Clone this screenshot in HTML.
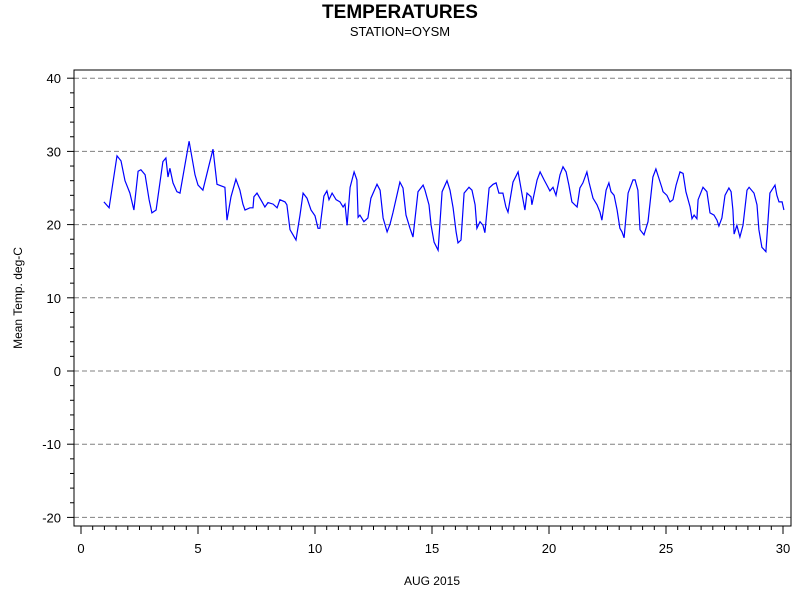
<!DOCTYPE html>
<html><head><meta charset="utf-8"><style>
body{margin:0;background:#fff;}
svg{display:block;font-family:"Liberation Sans",Arial,sans-serif;}
</style></head><body>
<svg id="chart" width="800" height="600">
<text x="400" y="18" text-anchor="middle" font-size="19" font-weight="bold">TEMPERATURES</text>
<text x="400" y="36" text-anchor="middle" font-size="13">STATION=OYSM</text>
<text transform="translate(22,298) rotate(-90)" text-anchor="middle" font-size="12">Mean Temp. deg-C</text>
<text x="432" y="585" text-anchor="middle" font-size="12">AUG 2015</text>
<g id="grid"></g><g id="axes"></g><g id="series"></g>
<rect x="74" y="70" width="717" height="456" fill="none" stroke="#000" stroke-width="1"/>
</svg>
<script>
const days=[0.98,1.20,1.54,1.71,1.88,2.09,2.26,2.44,2.56,2.74,2.91,3.03,3.21,3.50,3.63,3.72,3.80,3.93,4.10,4.23,4.62,4.87,5.00,5.21,5.47,5.64,5.81,6.15,6.24,6.41,6.62,6.79,6.92,7.01,7.22,7.35,7.39,7.52,7.74,7.86,7.99,8.21,8.38,8.50,8.72,8.80,8.93,9.06,9.19,9.36,9.49,9.66,9.83,10.0,10.13,10.21,10.38,10.51,10.60,10.73,10.90,11.07,11.20,11.28,11.37,11.50,11.67,11.79,11.84,11.92,12.09,12.26,12.39,12.65,12.78,12.91,13.08,13.21,13.33,13.63,13.76,13.89,14.06,14.19,14.40,14.62,14.70,14.87,14.96,15.09,15.26,15.43,15.64,15.77,15.90,16.03,16.11,16.24,16.37,16.58,16.71,16.84,16.92,17.05,17.18,17.26,17.44,17.61,17.74,17.86,18.03,18.16,18.25,18.46,18.68,18.89,18.97,19.06,19.23,19.27,19.49,19.62,19.79,19.91,20.04,20.17,20.30,20.47,20.60,20.73,20.85,20.98,21.20,21.32,21.45,21.62,21.71,21.88,22.05,22.18,22.26,22.44,22.56,22.65,22.78,22.91,23.03,23.12,23.21,23.38,23.59,23.68,23.80,23.89,24.06,24.23,24.44,24.57,24.83,24.87,25.04,25.17,25.30,25.43,25.60,25.73,25.85,26.03,26.11,26.20,26.32,26.37,26.58,26.75,26.88,27.05,27.18,27.26,27.39,27.52,27.69,27.78,27.86,27.91,28.03,28.16,28.29,28.46,28.55,28.76,28.89,28.97,29.10,29.27,29.44,29.66,29.74,29.83,29.96,30.04];
const temps=[23.1,22.3,29.4,28.7,26.0,24.3,22.0,27.3,27.5,26.8,23.4,21.6,22.0,28.6,29.1,26.5,27.7,25.7,24.5,24.3,31.4,26.8,25.4,24.7,28.1,30.3,25.5,25.1,20.6,23.8,26.2,24.7,22.8,22.0,22.3,22.3,23.8,24.3,23.1,22.4,23.0,22.8,22.3,23.4,23.1,22.7,19.3,18.6,17.9,21.3,24.3,23.6,22.0,21.2,19.5,19.5,23.9,24.6,23.4,24.3,23.4,23.1,22.4,22.8,19.9,25.1,27.2,26.1,21.0,21.3,20.4,20.9,23.6,25.5,24.7,20.9,19.0,20.1,21.6,25.8,25.0,21.3,19.5,18.3,24.5,25.4,24.7,22.7,19.9,17.6,16.5,24.5,26.0,24.7,22.3,19.0,17.5,17.9,24.3,25.1,24.7,22.7,19.5,20.4,19.9,18.9,25.0,25.5,25.7,24.3,24.3,22.4,21.7,25.8,27.2,23.4,22.0,24.3,23.8,22.7,26.1,27.2,26.1,25.4,24.6,25.1,24.0,26.8,27.9,27.2,25.4,23.1,22.4,25.0,25.7,27.2,25.8,23.6,22.7,21.7,20.6,24.7,25.7,24.5,24.0,22.0,19.5,19.0,18.2,24.3,26.1,26.1,24.7,19.3,18.6,20.4,26.5,27.6,25.0,24.5,24.0,23.1,23.4,25.4,27.2,27.0,24.5,22.4,20.8,21.3,20.8,23.4,25.1,24.5,21.6,21.3,20.6,19.8,20.9,24.0,25.0,24.5,22.0,18.7,19.9,18.3,19.9,24.7,25.1,24.3,22.7,19.3,16.9,16.3,24.3,25.4,24.0,23.1,23.1,22.0];
const yTicks=[-20,-10,0,10,20,30,40];
const xTicks=[0,5,10,15,20,25,30];
const NS='http://www.w3.org/2000/svg';
function xs(d){return 81+d*23.4;}
function ys(t){return 371-t*7.32;}
function mk(tag,attrs,parent){const e=document.createElementNS(NS,tag);for(const k in attrs)e.setAttribute(k,attrs[k]);parent.appendChild(e);return e;}
const grid=document.getElementById('grid'),axes=document.getElementById('axes'),series=document.getElementById('series');
yTicks.forEach(t=>{
  const g=mk('line',{x1:74,x2:791,y1:ys(t),y2:ys(t),stroke:'#808080','stroke-dasharray':'5,3'},grid);
  
  
  const tk=mk('line',{x1:67,x2:74,y1:ys(t),y2:ys(t),stroke:'#000'},axes);
  
  
  const lb=mk('text',{x:61,y:ys(t)+5,'text-anchor':'end','font-size':13},axes);
  lb.textContent=t;
  
  
});
for(let t=-20;t<=40;t+=2){if(t%10===0)continue;
  const m=mk('line',{x1:70,x2:74,y1:ys(t),y2:ys(t),stroke:'#000'},axes);
  
  
}
xTicks.forEach(d=>{
  const tk=mk('line',{x1:xs(d),x2:xs(d),y1:526,y2:534,stroke:'#000'},axes);
  
  
  const lb=mk('text',{x:xs(d),y:553,'text-anchor':'middle','font-size':13},axes);
  lb.textContent=d;
  
  
});
for(let d=0.5;d<30;d+=0.5){if(d%5===0)continue;
  const m=mk('line',{x1:xs(d),x2:xs(d),y1:526,y2:530,stroke:'#000'},axes);
  
  
}
const pts=days.map((d,i)=>xs(d).toFixed(1)+','+ys(temps[i]).toFixed(1)).join(' ');
const pl=mk('polyline',{points:pts,fill:'none',stroke:'#0000ff','stroke-width':1.2},series);


</script>
</body></html>
